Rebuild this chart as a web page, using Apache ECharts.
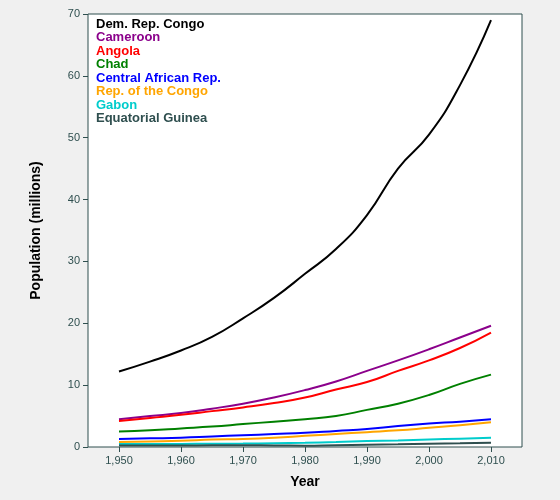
<!DOCTYPE html>
<html>
<head>
<meta charset="utf-8">
<script src="https://cdn.jsdelivr.net/npm/echarts@6/dist/echarts.min.js"></script>
<style>html,body{margin:0;background:#f0f0f0;}#main{width:560px;height:500px;}</style>
</head>
<body>
<div id="main"></div>
<script>
// population in millions, every 5 years
const years = [1950,1955,1960,1965,1970,1975,1980,1985,1990,1995,2000,2005,2010];
const xTicks = [1950,1960,1970,1980,1990,2000,2010];
const names = ['Dem. Rep. Congo','Cameroon','Angola','Chad','Central African Rep.','Rep. of the Congo','Gabon','Equatorial Guinea'];
const colors = ['#000000','#8b008b','#ff0000','#008000','#0000ff','#ffa500','#00cccc','#2f4f4f'];
const drc = [12.2,13.8,15.6,17.8,20.8,24.1,28.0,32.0,37.5,45.0,50.5,58.5,69.0];
const cameroon = [4.5,5.0,5.5,6.2,7.0,8.0,9.2,10.6,12.3,14.0,15.8,17.7,19.6];
const angola = [4.2,4.7,5.2,5.8,6.4,7.1,8.0,9.3,10.5,12.3,14.0,16.0,18.5];
const chad = [2.5,2.7,3.0,3.3,3.7,4.1,4.5,5.0,6.0,7.0,8.4,10.2,11.7];
const car = [1.3,1.4,1.5,1.7,1.9,2.1,2.3,2.6,2.9,3.4,3.8,4.1,4.5];
const congo = [0.8,0.9,1.0,1.2,1.3,1.5,1.8,2.1,2.4,2.7,3.1,3.5,4.0];
const gabon = [0.47,0.49,0.5,0.52,0.55,0.6,0.68,0.8,0.95,1.05,1.2,1.35,1.5];
const eqGuinea = [0.23,0.24,0.25,0.27,0.29,0.25,0.22,0.3,0.37,0.44,0.53,0.6,0.7];
const values = [drc,cameroon,angola,chad,car,congo,gabon,eqGuinea];

const chart = echarts.init(document.getElementById('main'));
chart.setOption({
    backgroundColor:'#f0f0f0',
    animation:false,
    grid:{left:88,right:38,top:14,bottom:53,show:true,backgroundColor:'#fff',borderColor:'#2f4f4f',borderWidth:1},
    legend:{
        orient:'vertical',left:82,top:12,icon:'none',itemGap:0,itemHeight:14,itemWidth:4,
        selectedMode:false,
        textStyle:{fontFamily:'Arial',fontSize:13,fontWeight:'bold',padding:0},
        data:names.map((n,i)=>({name:n,textStyle:{color:colors[i]}}))
    },
    xAxis:{
        type:'value',min:1945,max:2015,
        name:'Year',nameLocation:'middle',nameGap:28,
        nameTextStyle:{fontFamily:'Arial',fontSize:14,fontWeight:'bold',color:'#000'},
        axisLabel:{color:'#2f4f4f',fontFamily:'Arial',fontSize:11,customValues:xTicks},
        axisTick:{lineStyle:{color:'#2f4f4f'},customValues:xTicks},
        axisLine:{show:false},
        splitLine:{show:false}
    },
    yAxis:{
        type:'value',min:0,max:70,interval:10,
        name:'Population (millions)',nameLocation:'middle',nameGap:45,
        nameTextStyle:{fontFamily:'Arial',fontSize:14,fontWeight:'bold',color:'#000'},
        axisLabel:{color:'#2f4f4f',fontFamily:'Arial',fontSize:11},
        axisTick:{show:true,lineStyle:{color:'#2f4f4f'}},
        axisLine:{show:false},
        splitLine:{show:false}
    },
    series:names.map((n,i)=>({
        name:n,type:'line',smooth:true,symbol:'none',
        color:colors[i],lineStyle:{width:2,color:colors[i]},
        data:years.map((y,j)=>[y,values[i][j]])
    }))
});
</script>
</body>
</html>
